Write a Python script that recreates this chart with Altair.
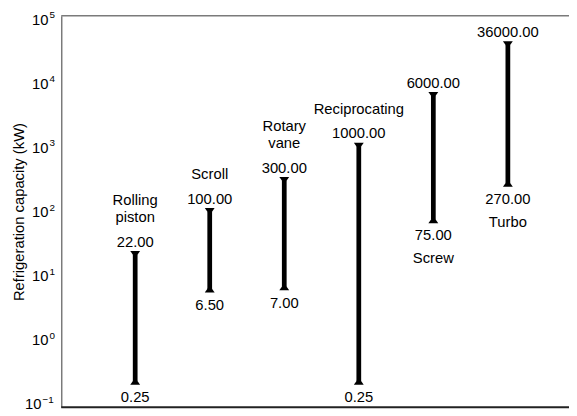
import altair as alt
import pandas as pd

# Data
compressors = ["Rolling piston", "Scroll", "Rotary vane", "Reciprocating", "Screw", "Turbo"]
name_upper = ["Rolling", "", "Rotary", "", "", ""]
name_lower = ["piston", "Scroll", "vane", "Reciprocating", "Screw", "Turbo"]
low_kw = [0.25, 6.5, 7.0, 0.25, 75.0, 270.0]
high_kw = [22.0, 100.0, 300.0, 1000.0, 6000.0, 36000.0]
name_side = ["top", "top", "top", "top", "bottom", "bottom"]
y_ticks = [0.1, 1, 10, 100, 1000, 10000, 100000]
y_exponents = ["\u22121", "0", "1", "2", "3", "4", "5"]

df = pd.DataFrame({
    "type": compressors,
    "upper": name_upper,
    "lower": name_lower,
    "low": low_kw,
    "high": high_kw,
    "side": name_side,
})
ticks_df = pd.DataFrame({"v": y_ticks, "exp": y_exponents,
                         "neg": [e.startswith("\u2212") for e in y_exponents]})

FONT = "Liberation Sans"
FS = 15

x_enc = alt.X("type:N", sort=compressors, axis=None,
              scale=alt.Scale(type="point", range=[75, 453], padding=0))
y_scale = alt.Scale(type="log", domain=[0.1, 100000])
# tick labels sit slightly inside the frame, as in the reference
label_scale = alt.Scale(type="log", domain=[0.1, 100000], range=[394, 4])

base = alt.Chart(df)

bars = base.mark_rule(color="black", strokeWidth=4.8).encode(
    x=x_enc,
    y=alt.Y("low:Q", scale=y_scale,
            axis=alt.Axis(values=y_ticks, labels=False, ticks=False, grid=False,
                          domainColor="#7a7a7a", domainWidth=1.5,
                          title="Refrigeration capacity (kW)",
                          titleFont=FONT, titleFontSize=FS, titleFontWeight="normal",
                          titleColor="black", titlePadding=35)),
    y2="high:Q",
)

tri_down = "M-1,-0.7L1,-0.7L0,0.7Z"
tri_up = "M-1,0.7L1,0.7L0,-0.7Z"

top_tri = base.mark_point(shape=tri_down, filled=True, color="black", size=100, opacity=1).encode(
    x=x_enc, y=alt.Y("high:Q", scale=y_scale))
bot_tri = base.mark_point(shape=tri_up, filled=True, color="black", size=100, opacity=1).encode(
    x=x_enc, y=alt.Y("low:Q", scale=y_scale))

txt = dict(font=FONT, fontSize=FS, color="black", baseline="middle")

hi_text = base.mark_text(dy=-13, **txt).encode(
    x=x_enc, y=alt.Y("high:Q", scale=y_scale), text=alt.Text("high:Q", format=".2f"))
lo_text = base.mark_text(dy=16, **txt).encode(
    x=x_enc, y=alt.Y("low:Q", scale=y_scale), text=alt.Text("low:Q", format=".2f"))

top_names = base.transform_filter(alt.datum.side == "top")
name_top_lower = top_names.mark_text(dy=-38, **txt).encode(
    x=x_enc, y=alt.Y("high:Q", scale=y_scale), text="lower:N")
name_top_upper = top_names.mark_text(dy=-55, **txt).encode(
    x=x_enc, y=alt.Y("high:Q", scale=y_scale), text="upper:N")
name_bot = base.transform_filter(alt.datum.side == "bottom").mark_text(dy=39, **txt).encode(
    x=x_enc, y=alt.Y("low:Q", scale=y_scale), text="lower:N")

top_line = alt.Chart(pd.DataFrame({"v": [y_ticks[-1]]})).mark_rule(
    color="#7a7a7a", strokeWidth=1.5).encode(y=alt.Y("v:Q", scale=y_scale))
bottom_line = alt.Chart(pd.DataFrame({"v": [y_ticks[0]]})).mark_rule(
    color="#222222", strokeWidth=2).encode(y=alt.Y("v:Q", scale=y_scale))

main = alt.layer(top_line, bottom_line, bars, top_tri, bot_tri, hi_text, lo_text,
                 name_top_lower, name_top_upper, name_bot)

# y tick labels: "10" with a raised exponent
tick_base = alt.Chart(ticks_df)
pos_ticks = tick_base.transform_filter("!datum.neg")
neg_ticks = tick_base.transform_filter("datum.neg")
ly = alt.Y("v:Q", scale=label_scale, axis=None)
ten_pos = pos_ticks.mark_text(align="right", x=-13, **txt).encode(y=ly, text=alt.value("10"))
ten_neg = neg_ticks.mark_text(align="right", x=-20, **txt).encode(y=ly, text=alt.value("10"))
exp_style = dict(dy=-4.5, font=FONT, fontSize=10, color="black", baseline="middle", align="left")
exp_pos = pos_ticks.mark_text(x=-12, **exp_style).encode(y=ly, text="exp:N")
exp_neg = neg_ticks.mark_text(x=-19, **exp_style).encode(y=ly, text="exp:N")
labels = alt.layer(ten_pos, ten_neg, exp_pos, exp_neg)

chart = alt.layer(main, labels).resolve_scale(y="independent").properties(
    width=515, height=397,
    autosize=alt.AutoSizeParams(type="none"),
    padding={"left": 54, "top": 5, "right": 0, "bottom": 9},
).configure_view(stroke=None)

chart.save("out.html", embed_options={"renderer": "svg", "actions": False})
